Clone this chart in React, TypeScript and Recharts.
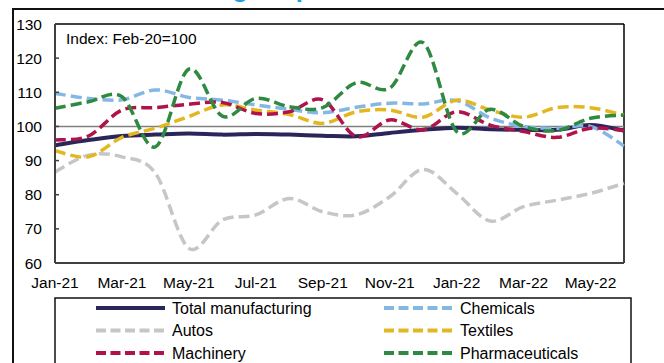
import { LineChart, Line, XAxis, YAxis, ReferenceLine } from "recharts";

const months = [
  "Jan-21", "Feb-21", "Mar-21", "Apr-21", "May-21", "Jun-21", "Jul-21", "Aug-21", "Sep-21",
  "Oct-21", "Nov-21", "Dec-21", "Jan-22", "Feb-22", "Mar-22", "Apr-22", "May-22", "Jun-22",
];
const totalManufacturing = [94.5, 96, 97.2, 97.6, 97.9, 97.6, 97.8, 97.6, 97.3, 97.1, 98.1, 99, 99.6, 99.2, 99, 99, 100.4, 98.8];
const chemicals = [109.7, 108.2, 107.8, 110.7, 108.5, 107.7, 106.3, 105, 104, 105.6, 106.8, 106.6, 107.6, 102.5, 100, 99.4, 100, 94.3];
const autos = [86.7, 91.6, 91.1, 86.3, 64.3, 72.6, 74.1, 78.9, 75, 74.1, 79.4, 87.4, 80.4, 72.3, 76.5, 78.4, 80.4, 83.3];
const textiles = [92.9, 91.1, 96.8, 99.5, 102.9, 106.3, 104.8, 103.5, 100.9, 104.3, 104.8, 102.7, 107.7, 104.8, 102.7, 105.5, 105.5, 103.3];
const machinery = [96, 97.2, 104.8, 105.5, 106.5, 107, 103.8, 104.3, 107.8, 97, 101.9, 99, 104.3, 100.4, 98.5, 96.8, 99.5, 98.8];
const pharmaceuticals = [105.3, 107.2, 108.7, 94, 116.8, 103, 108.2, 105.8, 105.5, 112.8, 111.2, 124.5, 98.5, 105, 100, 98.8, 102.4, 103.3];
const yTicks = [60, 70, 80, 90, 100, 110, 120, 130];

const series = [
  { key: "total", name: "Total manufacturing", color: "#2a2659", dash: undefined, values: totalManufacturing },
  { key: "chemicals", name: "Chemicals", color: "#85b7e5", dash: "11 5", values: chemicals },
  { key: "autos", name: "Autos", color: "#c6c6c6", dash: "11 5", values: autos },
  { key: "textiles", name: "Textiles", color: "#e2b722", dash: "11 5", values: textiles },
  { key: "machinery", name: "Machinery", color: "#b0134b", dash: "11 5", values: machinery },
  { key: "pharma", name: "Pharmaceuticals", color: "#2e8a40", dash: "11 5", values: pharmaceuticals },
];

const rows = months.map((m, i) => {
  const r: Record<string, string | number> = { month: m };
  series.forEach((s) => (r[s.key] = s.values[i]));
  return r;
});

const FONT = "'Liberation Sans', Arial, sans-serif";

// excel-style smoothed line (catmull-rom through every point)
function smoothCurve(context: any) {
  let pts: number[][] = [];
  return {
    areaStart() {},
    areaEnd() {},
    lineStart() {
      pts = [];
    },
    point(x: number, y: number) {
      pts.push([+x, +y]);
    },
    lineEnd() {
      if (!pts.length) return;
      context.moveTo(pts[0][0], pts[0][1]);
      for (let i = 0; i < pts.length - 1; i++) {
        const p0 = pts[Math.max(i - 1, 0)];
        const p1 = pts[i];
        const p2 = pts[i + 1];
        const p3 = pts[Math.min(i + 2, pts.length - 1)];
        context.bezierCurveTo(
          p1[0] + (p2[0] - p0[0]) / 6, p1[1] + (p2[1] - p0[1]) / 6,
          p2[0] - (p3[0] - p1[0]) / 6, p2[1] - (p3[1] - p1[1]) / 6,
          p2[0], p2[1],
        );
      }
    },
  };
}

function YTick(props: any) {
  const { x, y, payload } = props;
  return (
    <g>
      <line x1={55} x2={59} y1={y} y2={y} stroke="#404040" strokeWidth={1.5} />
      <text x={x} y={y} dy="0.355em" textAnchor="end" fontSize={15.5} fill="#000">
        {payload.value}
      </text>
    </g>
  );
}

export default function App() {
  return (
    <div style={{ position: "relative", width: 664, height: 363, overflow: "hidden", fontFamily: FONT, background: "#fff" }}>
      <style>{"body{margin:0;overflow:hidden}"}</style>
      <div
        style={{
          position: "absolute", left: 69, top: -25, fontSize: 26, lineHeight: "26px",
          fontWeight: 700, color: "#1ba1e2", whiteSpace: "nowrap",
        }}
      >
        Manufacturing output
      </div>
      <div style={{ position: "absolute", left: 12, top: 8, width: 700, height: 400, borderTop: "2px solid #111", borderLeft: "2px solid #111" }} />
      <div style={{ position: "absolute", left: 0, top: 0 }}>
        <LineChart width={664} height={300} data={rows} margin={{ top: 24, right: 40, left: 0, bottom: 7 }}>
          <XAxis
            dataKey="month"
            interval={1}
            tickSize={0}
            tickMargin={14}
            height={30}
            axisLine={{ stroke: "#404040", strokeWidth: 2 }}
            tick={{ fontSize: 15.5, fill: "#000" }}
          />
          <YAxis
            type="number"
            domain={[60, 130]}
            ticks={yTicks}
            interval={0}
            width={55}
            tickSize={0}
            tickMargin={13}
            axisLine={{ stroke: "#404040", strokeWidth: 2 }}
            tick={<YTick />}
          />
          <ReferenceLine y={130} stroke="#000" strokeWidth={1.5} />
          <ReferenceLine x="Jun-22" stroke="#000" strokeWidth={1.5} />
          <ReferenceLine y={100} stroke="#808080" strokeWidth={1.5} />
          {series.map((s) => (
            <Line
              key={s.key}
              dataKey={s.key}
              name={s.name}
              type={smoothCurve as any}
              stroke={s.color}
              strokeWidth={s.dash ? 3.5 : 4}
              strokeDasharray={s.dash}
              dot={false}
              isAnimationActive={false}
            />
          ))}
        </LineChart>
      </div>
      <div style={{ position: "absolute", left: 66, top: 30, fontSize: 15.5, color: "#000" }}>Index: Feb-20=100</div>
      <svg width={664} height={363} style={{ position: "absolute", left: 0, top: 0 }}>
        <rect x={55} y={298} width={576} height={90} fill="none" stroke="#111" strokeWidth={1.5} />
        {series.map((s, i) => {
          const col = i % 2;
          const row = Math.floor(i / 2);
          const lx = col === 0 ? 96 : 384;
          const cy = 308 + row * 22.5;
          return (
            <g key={s.key}>
              <line x1={lx} x2={lx + 69} y1={cy} y2={cy} stroke={s.color} strokeWidth={4} strokeDasharray={s.dash ? "10 4.5" : undefined} />
              <text x={lx + 76} y={cy} dy="0.355em" fontSize={16} fill="#000">{s.name}</text>
            </g>
          );
        })}
      </svg>
    </div>
  );
}
